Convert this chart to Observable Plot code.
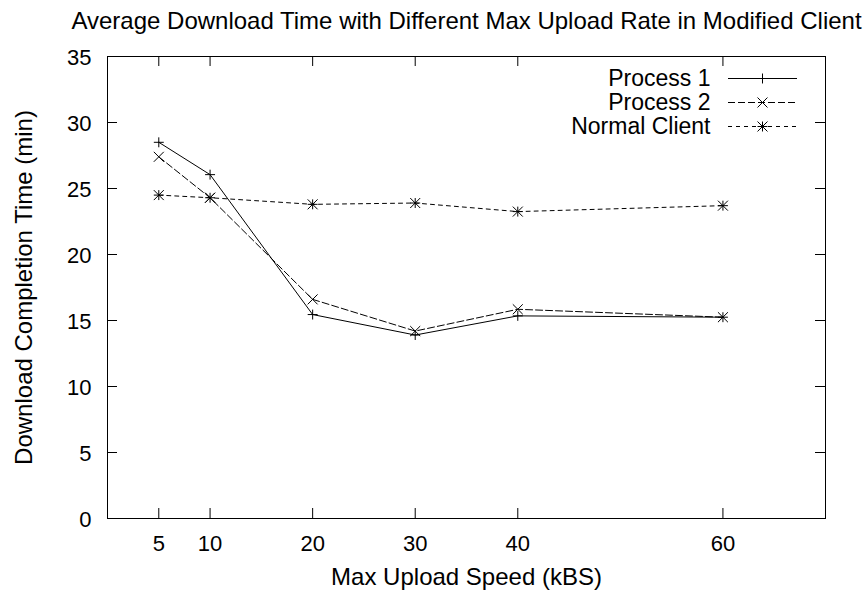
<!DOCTYPE html>
<html>
<head>
<meta charset="utf-8">
<script src="https://cdn.jsdelivr.net/npm/d3@7"></script>
<script src="https://cdn.jsdelivr.net/npm/@observablehq/plot@0.6"></script>
<style>
  html, body { margin: 0; padding: 0; background: #fff; }
  #chart { width: 868px; height: 593px; }
</style>
</head>
<body>
<div id="chart"></div>
<script>
// ---- data ----
const titleText = "Average Download Time with Different Max Upload Rate in Modified Client";
const xLabel = "Max Upload Speed (kBS)";
const yLabel = "Download Completion Time (min)";
const seriesNames = ["Process 1", "Process 2", "Normal Client"];
const uploadSpeeds = [5, 10, 20, 30, 40, 60];
const process1 = [28.5, 26.05, 15.45, 13.9, 15.35, 15.25];
const process2 = [27.4, 24.3, 16.6, 14.2, 15.85, 15.25];
const normalClient = [24.5, 24.3, 23.8, 23.9, 23.25, 23.7];
const xTicks = [5, 10, 20, 30, 40, 60];
const yTicks = [0, 5, 10, 15, 20, 25, 30, 35];
const xDomain = [0, 70];
const yDomain = [0, 35];

// ---- layout ----
const W = 868, H = 593;
const mL = 107, mR = 43, mT = 56, mB = 75;
const fw = W - mL - mR, fh = H - mT - mB;
const tickLen = 10;
const font = "'Liberation Sans', Arial, Helvetica, sans-serif";

const toRows = (vals, name) => uploadSpeeds.map((x, i) => ({x, y: vals[i], series: name}));
const rows1 = toRows(process1, seriesNames[0]);
const rows2 = toRows(process2, seriesNames[1]);
const rows3 = toRows(normalClient, seriesNames[2]);

const dashes = ["none", "7,3", "4,4"];

function lineSymbol(len) {
  return {draw(ctx) { ctx.moveTo(-len / 2, 0); ctx.lineTo(len / 2, 0); }};
}

const legendRowsDy = [22, 46, 70];
const legendTextDx = -115;
const legendSymDx = -63;

const legendMarks = [];
seriesNames.forEach((name, i) => {
  legendMarks.push(Plot.text([name], {frameAnchor: "top-right", dx: legendTextDx, dy: legendRowsDy[i],
    textAnchor: "end", lineAnchor: "middle", fontSize: 23, fill: "black"}));
  legendMarks.push(Plot.dot([name], {frameAnchor: "top-right", dx: legendSymDx, dy: legendRowsDy[i],
    symbol: lineSymbol(69), r: 5, stroke: "black", fill: "none", strokeWidth: 1,
    strokeDasharray: dashes[i] === "none" ? null : dashes[i]}));
});
legendMarks.push(Plot.dot([0], {frameAnchor: "top-right", dx: legendSymDx, dy: legendRowsDy[0], symbol: "plus", r: 3.3, stroke: "black", strokeWidth: 1}));
legendMarks.push(Plot.dot([0], {frameAnchor: "top-right", dx: legendSymDx, dy: legendRowsDy[1], symbol: "times", r: 4.6, stroke: "black", strokeWidth: 1}));
legendMarks.push(Plot.dot([0], {frameAnchor: "top-right", dx: legendSymDx, dy: legendRowsDy[2], symbol: "plus", r: 3.3, stroke: "black", strokeWidth: 1}));
legendMarks.push(Plot.dot([0], {frameAnchor: "top-right", dx: legendSymDx, dy: legendRowsDy[2], symbol: "times", r: 4.6, stroke: "black", strokeWidth: 1}));

const chart = Plot.plot({
  width: W, height: H,
  marginLeft: mL, marginRight: mR, marginTop: mT, marginBottom: mB,
  x: {domain: xDomain, axis: null},
  y: {domain: yDomain, axis: null},
  style: {fontFamily: font, background: "white", color: "black", overflow: "visible"},
  marks: [
    Plot.frame({stroke: "black", strokeWidth: 1}),
    // ticks (inward, mirrored)
    Plot.tickX(xTicks, {x: d => d, insetTop: fh - tickLen, stroke: "black"}),
    Plot.tickX(xTicks, {x: d => d, insetBottom: fh - tickLen, stroke: "black"}),
    Plot.tickY(yTicks, {y: d => d, insetRight: fw - tickLen, stroke: "black"}),
    Plot.tickY(yTicks, {y: d => d, insetLeft: fw - tickLen, stroke: "black"}),
    // tick labels
    Plot.text(xTicks, {x: d => d, text: d => String(d), frameAnchor: "bottom", dy: 25, textAnchor: "middle", lineAnchor: "middle", fontSize: 22, fill: "black"}),
    Plot.text(yTicks, {y: d => d, text: d => String(d), frameAnchor: "left", dx: -16, dy: 1, textAnchor: "end", lineAnchor: "middle", fontSize: 22, fill: "black"}),
    // title & axis labels
    Plot.text([titleText], {frameAnchor: "top", dy: -28, textAnchor: "middle", lineAnchor: "bottom", fontSize: 24, fill: "black"}),
    Plot.text([xLabel], {frameAnchor: "bottom", dy: 66, textAnchor: "middle", lineAnchor: "bottom", fontSize: 24, fill: "black"}),
    Plot.text([yLabel], {frameAnchor: "left", dx: -(mL - 24), rotate: -90, textAnchor: "middle", lineAnchor: "middle", fontSize: 24, fill: "black"}),
    // series lines
    Plot.line(rows1, {x: "x", y: "y", stroke: "black", strokeWidth: 1}),
    Plot.line(rows2, {x: "x", y: "y", stroke: "black", strokeWidth: 1, strokeDasharray: dashes[1]}),
    Plot.line(rows3, {x: "x", y: "y", stroke: "black", strokeWidth: 1, strokeDasharray: dashes[2]}),
    // series symbols
    Plot.dot(rows1, {x: "x", y: "y", symbol: "plus", r: 3.3, stroke: "black", strokeWidth: 1}),
    Plot.dot(rows2, {x: "x", y: "y", symbol: "times", r: 4.6, stroke: "black", strokeWidth: 1}),
    Plot.dot(rows3, {x: "x", y: "y", symbol: "plus", r: 3.3, stroke: "black", strokeWidth: 1}),
    Plot.dot(rows3, {x: "x", y: "y", symbol: "times", r: 4.6, stroke: "black", strokeWidth: 1}),
    ...legendMarks
  ]
});
document.getElementById("chart").appendChild(chart);
</script>
</body>
</html>
